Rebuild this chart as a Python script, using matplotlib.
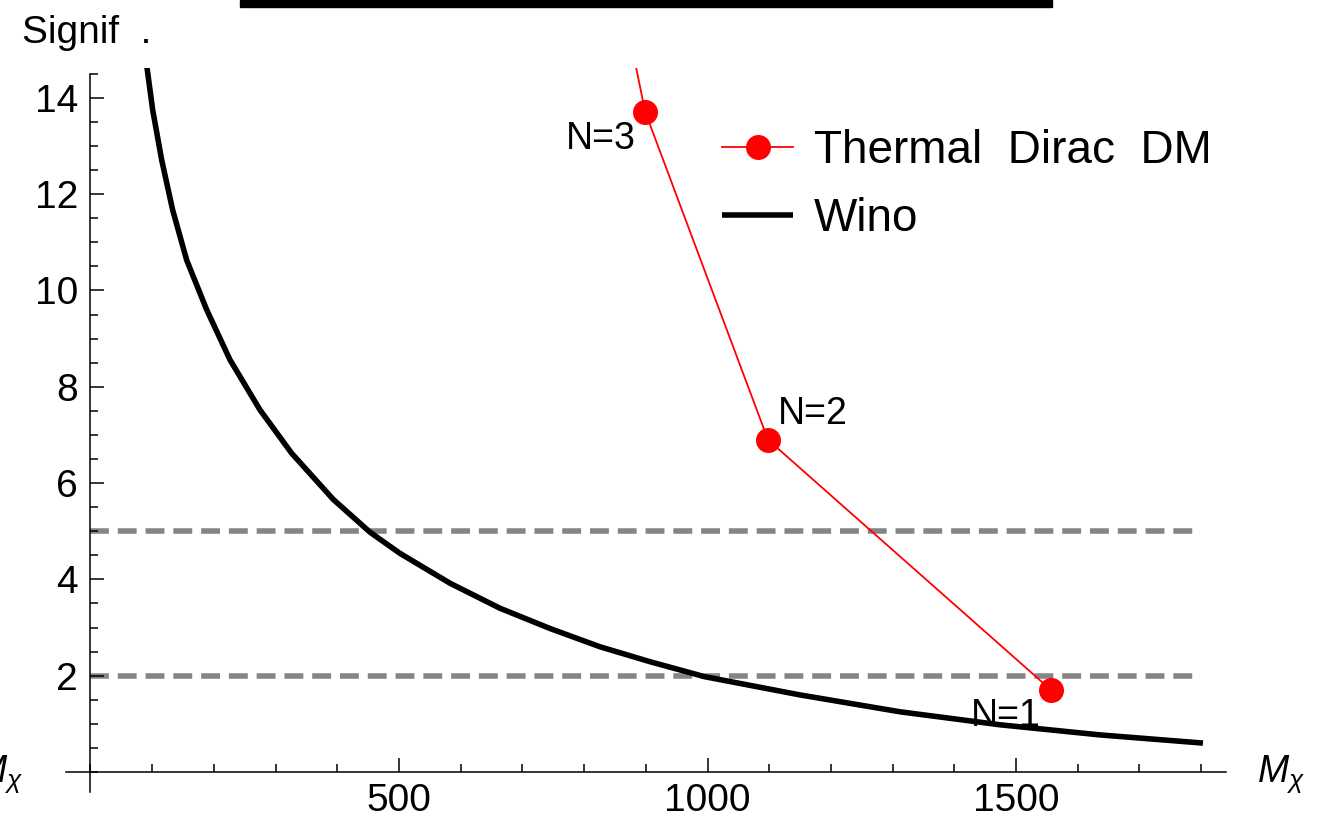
import matplotlib
matplotlib.use("Agg")
import matplotlib.pyplot as plt
from matplotlib.patches import Rectangle
from matplotlib.ticker import FixedLocator, MultipleLocator

plt.rcParams["font.family"] = ["Liberation Sans", "DejaVu Sans"]
plt.rcParams["mathtext.fontset"] = "custom"
plt.rcParams["mathtext.it"] = "Liberation Sans:italic"
plt.rcParams["mathtext.rm"] = "Liberation Sans"

# wino significance curve
wino_mass = [87, 92.1, 100.8, 115.4, 133.2, 155.9, 188.3, 226.1, 274.7, 326,
             393.5, 453, 501.6, 582.7, 663.7, 744.7, 825.8, 906.8, 995, 1150, 1312,
             1474, 1636, 1803]
wino_signif = [15.1, 14.58, 13.75, 12.71, 11.67, 10.63, 9.60, 8.56, 7.52, 6.62,
               5.66, 4.98, 4.54, 3.92, 3.40, 2.98, 2.60, 2.29, 1.98, 1.60, 1.25,
               0.98, 0.77, 0.60]

# thermal Dirac DM points (the last one sits above the frame)
dirac_mass = [1557, 1098, 899, 800]
dirac_signif = [1.70, 6.90, 13.71, 19.9]
dirac_labels = ["N=1", "N=2", "N=3", None]
# label offsets in points (dx, dy of the baseline centre)
label_offsets = [(-33, -26), (32, 11), (-32, -27), (0, 0)]

thresholds = [2, 5]

W, H = 1325, 825
fig = plt.figure(figsize=(W / 100, H / 100), dpi=100)
ax = fig.add_axes([65.8 / W, 1 - 792.2 / H, 1160 / W, 724.2 / H])

for t in thresholds:
    ax.hlines(t, 0, 1790, colors="#858585", lw=4, linestyle=(0, (3.4, 1.6)), zorder=1)

wino, = ax.plot(wino_mass, wino_signif, color="black", lw=4, label="Wino", zorder=2,
                solid_joinstyle="round", solid_capstyle="butt")
dirac, = ax.plot(dirac_mass, dirac_signif, color="red", lw=1.3, marker="o", ms=18,
                 mec="none", label="Thermal  Dirac  DM", zorder=3)

for x, y, lbl, off in zip(dirac_mass, dirac_signif, dirac_labels, label_offsets):
    if lbl is None:
        continue
    ax.annotate(lbl, (x, y), xytext=off, textcoords="offset points",
                ha="center", va="baseline", fontsize=27, zorder=4)

ax.set_xlim(-40, 1840)
ax.set_ylim(-0.42, 14.62)

for s in ["top", "right"]:
    ax.spines[s].set_visible(False)
ax.spines["left"].set_position(("data", 0))
ax.spines["bottom"].set_position(("data", 0))
ax.spines["left"].set_bounds(-0.42, 14.5)
for s in ["left", "bottom"]:
    ax.spines[s].set_linewidth(1.1)

ax.xaxis.set_major_locator(FixedLocator([500, 1000, 1500]))
ax.xaxis.set_minor_locator(MultipleLocator(100))
ax.yaxis.set_major_locator(FixedLocator([2, 4, 6, 8, 10, 12, 14]))
ax.yaxis.set_minor_locator(MultipleLocator(0.5))
ax.tick_params(which="both", direction="in", width=1.1, labelsize=28)
ax.tick_params(which="major", length=10)
ax.tick_params(which="minor", length=5.5)
ax.tick_params(axis="x", pad=8)
ax.tick_params(axis="y", pad=9)

ax.legend(handles=[dirac, wino], fontsize=33, frameon=False, loc="center left",
          bbox_to_anchor=(722 / W, 1 - 185 / H), bbox_transform=fig.transFigure,
          borderpad=0, borderaxespad=0, handlelength=1.55, handletextpad=0.45,
          labelspacing=0.51, numpoints=1)

fig.text(22 / W, 1 - 43 / H, "Signif  .", fontsize=28, ha="left", va="baseline")
fig.text(1257 / W, 1 - 782 / H, r"$M_\chi$", fontsize=27, ha="left", va="baseline")
# neighbouring panel's axis label, cut by the left edge
fig.text(-25 / W, 1 - 782 / H, r"$M_\chi$", fontsize=27, ha="left", va="baseline")
# bottom of the frame above, cut by the top edge
fig.patches.append(Rectangle((240 / W, 1 - 7 / H), 812 / W, 7 / H,
                             transform=fig.transFigure, color="black"))

fig.savefig("out.png", dpi=100)
